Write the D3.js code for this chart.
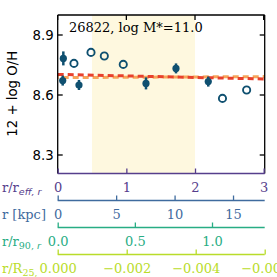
<!DOCTYPE html>
<html><head><meta charset="utf-8">
<script src="https://cdn.jsdelivr.net/npm/d3@7"></script>
<style>body{margin:0;background:#fff}svg{display:block}</style>
</head><body>
<script>
// ---- data ----
const title = "26822, log M*=11.0";
const filledR = [0.073, 0.082, 0.31, 1.286, 1.723, 2.193];
const filledOH = [8.672, 8.783, 8.650, 8.658, 8.733, 8.667];
const filledErr = [0.025, 0.035, 0.025, 0.03, 0.025, 0.025];
const openR = [0.237, 0.485, 0.679, 0.955, 2.40, 2.752];
const openOH = [8.758, 8.813, 8.795, 8.753, 8.583, 8.625];
const fitR = [0, 3.015];
const fitRed = [8.703, 8.680];
const fitOrange = [8.687, 8.692];
const shadeR = [0.5, 2.0];
const yTicks = [8.3, 8.6, 8.9];
const reffTicks = [0, 1, 2, 3];
const kpcTicks = [0, 5, 10, 15];
const r90Ticks = [0.0, 0.5, 1.0];
const r25Ticks = [0.000, -0.002, -0.004, -0.006];

const W = 277, H = 277;
const L = 57.7, R = 264.7, T = 15, B = 173.5;
const svg = d3.select("body").append("svg").attr("width", W).attr("height", H);

const x = d3.scaleLinear().domain([0, 3.015]).range([L, R]);
const y = d3.scaleLinear().domain([8.2075, 9.0]).range([B, T]);

const serif = "DejaVu Serif", sans = "DejaVu Sans";
const purple = "#563e8c", blue = "#3f6b9e", green = "#28ad84", yel = "#b9dc2a";
const mk = "#0f5070";

// shaded region
svg.append("rect").attr("x", x(shadeR[0])).attr("y", T)
  .attr("width", x(shadeR[1]) - x(shadeR[0])).attr("height", B - T).attr("fill", "#fef8df");

// fit lines
const line = d3.line().x(d => x(d[0])).y(d => y(d[1]));
svg.append("path").datum(fitR.map((r, i) => [r, fitOrange[i]])).attr("d", line)
  .attr("stroke", "#f6a55a").attr("stroke-width", 3).attr("fill", "none")
  .attr("stroke-dasharray", "6,4").attr("stroke-dashoffset", 5);
svg.append("path").datum(fitR.map((r, i) => [r, fitRed[i]])).attr("d", line)
  .attr("stroke", "#e8402c").attr("stroke-width", 3).attr("fill", "none")
  .attr("stroke-dasharray", "6,4");

// filled points with errors
const fd = filledR.map((r, i) => ({r, v: filledOH[i], e: filledErr[i]}));
svg.selectAll(".err").data(fd).enter().append("line")
  .attr("x1", d => x(d.r)).attr("x2", d => x(d.r))
  .attr("y1", d => y(d.v - d.e)).attr("y2", d => y(d.v + d.e))
  .attr("stroke", mk).attr("stroke-width", 2.5);
svg.selectAll(".fp").data(fd).enter().append("circle")
  .attr("cx", d => x(d.r)).attr("cy", d => y(d.v)).attr("r", 3.6).attr("fill", mk);

// open points
const od = openR.map((r, i) => ({r, v: openOH[i]}));
svg.selectAll(".op").data(od).enter().append("circle")
  .attr("cx", d => x(d.r)).attr("cy", d => y(d.v)).attr("r", 3.6)
  .attr("fill", "none").attr("stroke", mk).attr("stroke-width", 1.9);

// frame
svg.append("line").attr("x1", L).attr("x2", L).attr("y1", T).attr("y2", B).attr("stroke", "#000").attr("stroke-width", 1.3);
svg.append("line").attr("x1", R).attr("x2", R).attr("y1", T).attr("y2", B).attr("stroke", "#000").attr("stroke-width", 1.3);
svg.append("line").attr("x1", L).attr("x2", R).attr("y1", T).attr("y2", T).attr("stroke", "#000").attr("stroke-width", 1.3);

// y ticks
yTicks.forEach(t => {
  svg.append("line").attr("x1", L).attr("x2", L + 5).attr("y1", y(t)).attr("y2", y(t)).attr("stroke", "#000").attr("stroke-width", 1.3);
  svg.append("line").attr("x1", R - 5).attr("x2", R).attr("y1", y(t)).attr("y2", y(t)).attr("stroke", "#000").attr("stroke-width", 1.3);
  svg.append("text").attr("x", L - 4).attr("y", y(t)).attr("dy", "0.36em").attr("text-anchor", "end")
    .attr("font-family", sans).attr("font-size", 13.3).attr("fill", "#000").text(t.toFixed(1));
});
// top ticks
reffTicks.forEach(t => {
  svg.append("line").attr("x1", x(t)).attr("x2", x(t)).attr("y1", T).attr("y2", T + 5).attr("stroke", "#000").attr("stroke-width", 1.3);
});

svg.append("text").attr("transform", `translate(17,${(T + B) / 2 - 0.5}) rotate(-90)`)
  .attr("text-anchor", "middle").attr("font-family", sans).attr("font-size", 13.3).text("12 + log O/H");

svg.append("text").attr("x", 69).attr("y", 32).attr("font-family", serif).attr("font-size", 13)
  .attr("fill", "#000").text(title);

// secondary axes
function secAxis(yPos, scale, ticks, color, fmt, labelParts) {
  const g = svg.append("g").attr("transform", `translate(0,${yPos})`);
  const ax = d3.axisBottom(scale).tickValues(ticks).tickSize(-5).tickPadding(0).tickFormat(fmt);
  g.call(ax);
  g.select(".domain").attr("stroke", color).attr("stroke-width", 1.6).attr("d", `M${L},0H${R}`);
  g.selectAll(".tick line").attr("stroke", color).attr("stroke-width", 1.3);
  g.selectAll(".tick text").attr("fill", color).attr("font-family", serif).attr("font-size", 13)
    .attr("y", 14).attr("dy", "0.36em");
  const t = svg.append("text").attr("x", 2).attr("y", yPos + 14).attr("dy", "0.36em")
    .attr("font-family", serif).attr("font-size", 13).attr("fill", color);
  labelParts.forEach(p => {
    const s = t.append("tspan").text(p.t);
    if (p.sub) s.attr("font-size", 9.5).attr("baseline-shift", "-3").attr("font-family", p.it ? sans : serif).attr("font-style", p.it ? "italic" : null);
  });
}
const xr = x;
const xk = d3.scaleLinear().domain([0, 17.71]).range([L, R]);
const x90 = d3.scaleLinear().domain([0, 1.3415]).range([L, R]);
const x25 = d3.scaleLinear().domain([0, -0.006]).range([L, R]);
const minus = s => s.replace("-", "\u2212");
secAxis(B, xr, reffTicks, purple, d => d3.format("d")(d), [{t: "r/r"}, {t: "eff, r", sub: true, it: true}]);
secAxis(200.5, xk, kpcTicks, blue, d => d3.format("d")(d), [{t: "r [kpc]"}]);
secAxis(227.5, x90, r90Ticks, green, d => d3.format(".1f")(d), [{t: "r/r"}, {t: "90, ", sub: true}, {t: "r", sub: true, it: true}]);
secAxis(254.5, x25, r25Ticks, yel, d => minus(d3.format(".3f")(d)), [{t: "r/R"}, {t: "25,", sub: true}]);
</script>
</body></html>
